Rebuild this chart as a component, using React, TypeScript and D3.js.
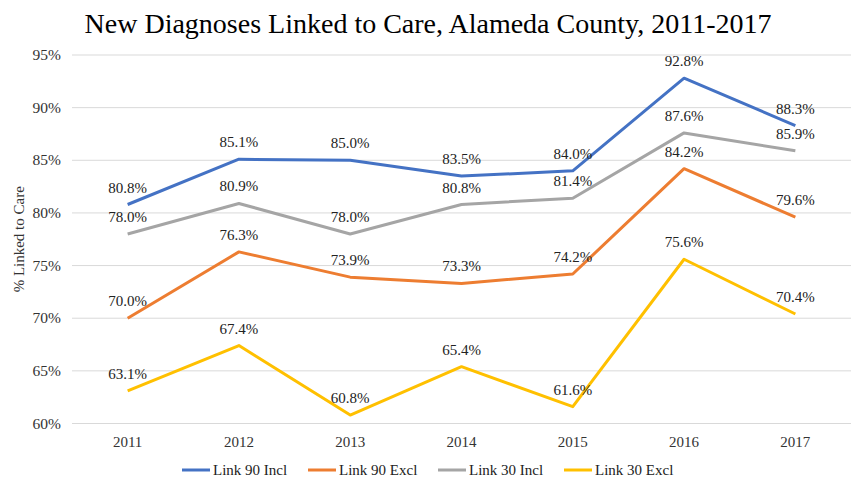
import React from "react";
import * as d3 from "d3";

const years = ["2011", "2012", "2013", "2014", "2015", "2016", "2017"];
const link90Incl = [80.8, 85.1, 85.0, 83.5, 84.0, 92.8, 88.3];
const link90Excl = [70.0, 76.3, 73.9, 73.3, 74.2, 84.2, 79.6];
const link30Incl = [78.0, 80.9, 78.0, 80.8, 81.4, 87.6, 85.9];
const link30Excl = [63.1, 67.4, 60.8, 65.4, 61.6, 75.6, 70.4];
const yTicks = [60, 65, 70, 75, 80, 85, 90, 95];
const seriesNames = ["Link 90 Incl", "Link 90 Excl", "Link 30 Incl", "Link 30 Excl"];
const seriesColors = ["#4472C4", "#ED7D31", "#A5A5A5", "#FFC000"];
const seriesValues = [link90Incl, link90Excl, link30Incl, link30Excl];

const W = 857;
const H = 483;
const FONT = "Liberation Serif";

export default function App() {
  const x = d3.scaleBand<string>().domain(years).range([72, 851]);
  const y = d3.scaleLinear().domain([60, 95]).range([423.5, 55]);
  const line = d3
    .line<number>()
    .x((_, i) => (x(years[i]) as number) + x.bandwidth() / 2)
    .y((d) => y(d));

  const legendX = [182, 308, 438, 564];
  const ts = { fontFamily: FONT };

  return (
    <svg
      width={W}
      height={H}
      style={{ position: "absolute", left: 0, top: 0, background: "#fff" }}
    >
      <rect x={0} y={0} width={W} height={H} fill="#fff" />
      <text x={428} y={33} textAnchor="middle" fontSize={28} fill="#000" style={ts}>
        New Diagnoses Linked to Care, Alameda County, 2011-2017
      </text>
      {yTicks.map((t) => (
        <g key={t}>
          <line x1={72} x2={851} y1={y(t)} y2={y(t)} stroke="#D9D9D9" strokeWidth={1} />
          <text x={61} y={y(t) + 5} textAnchor="end" fontSize={15.5} fill="#333" style={ts}>
            {t}%
          </text>
        </g>
      ))}
      {years.map((yr) => (
        <text
          key={yr}
          x={(x(yr) as number) + x.bandwidth() / 2}
          y={447}
          textAnchor="middle"
          fontSize={15}
          fill="#333"
          style={ts}
        >
          {yr}
        </text>
      ))}
      <text
        transform={`translate(24, ${(55 + 423.5) / 2}) rotate(-90)`}
        textAnchor="middle"
        fontSize={15}
        fill="#333"
        style={ts}
      >
        % Linked to Care
      </text>
      {seriesValues.map((vals, si) => (
        <path
          key={si}
          d={line(vals) as string}
          fill="none"
          stroke={seriesColors[si]}
          strokeWidth={3}
          strokeLinejoin="round"
        />
      ))}
      {seriesValues.map((vals, si) =>
        vals.map((v, i) => (
          <text
            key={`${si}-${i}`}
            x={(x(years[i]) as number) + x.bandwidth() / 2}
            y={y(v) - 12}
            textAnchor="middle"
            fontSize={15}
            fill="#222"
            style={ts}
          >
            {v.toFixed(1)}%
          </text>
        ))
      )}
      {seriesNames.map((n, i) => (
        <g key={n}>
          <line
            x1={legendX[i]}
            x2={legendX[i] + 28}
            y1={470}
            y2={470}
            stroke={seriesColors[i]}
            strokeWidth={3}
          />
          <text x={legendX[i] + 31} y={475} fontSize={15} fill="#222" style={ts}>
            {n}
          </text>
        </g>
      ))}
    </svg>
  );
}
